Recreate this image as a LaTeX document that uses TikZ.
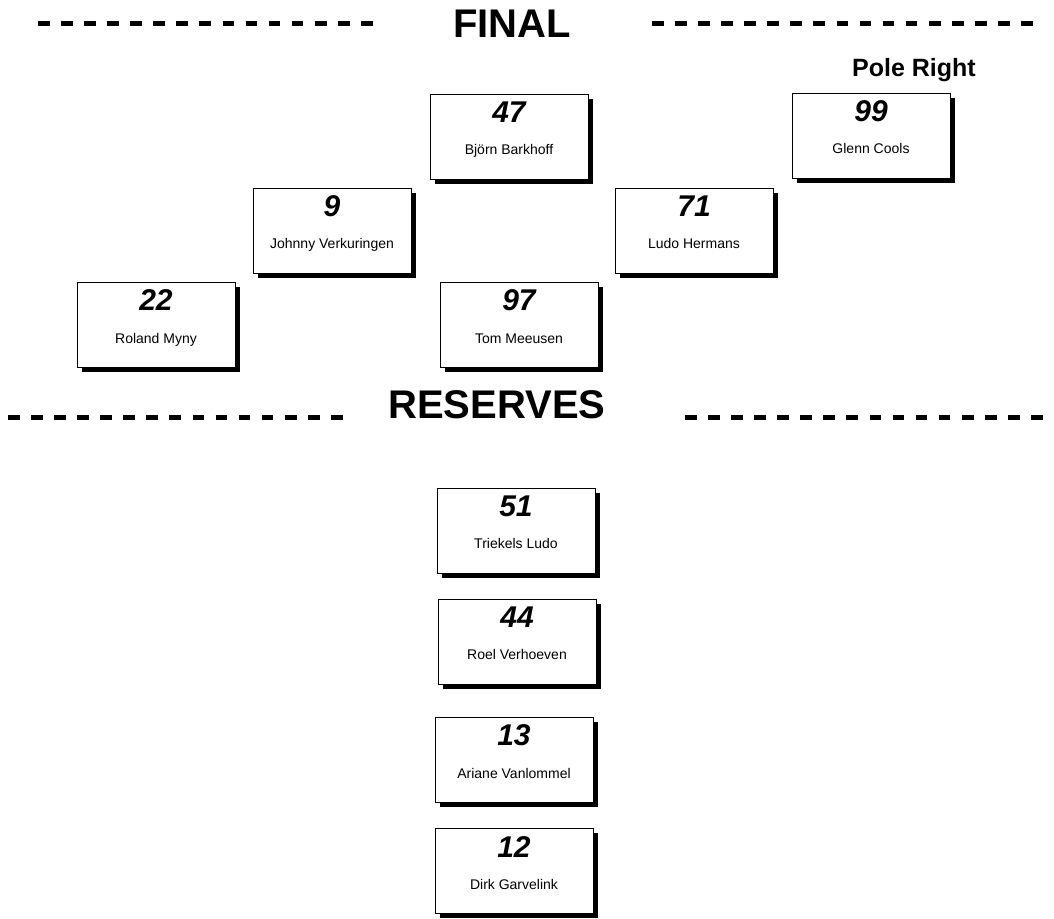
\documentclass[tikz,border=0pt]{standalone}
\usepackage{fontspec}
\setmainfont{Liberation Sans}
\usetikzlibrary{shadows}
\tikzset{
  plaats/.style={draw=black,fill=white,line width=1pt,anchor=north west,inner sep=0pt,
    minimum width=118.5pt,minimum height=63.75pt,
    drop shadow={shadow xshift=3.6pt,shadow yshift=-3.6pt,fill=black,opacity=1}},
  nummer/.style={anchor=base,inner sep=0pt,font=\fontsize{22.5}{24}\selectfont\bfseries\itshape},
  naam/.style={anchor=base,inner sep=0pt,font=\fontsize{10.5}{12}\selectfont},
  kop/.style={anchor=base,inner sep=0pt,font=\fontsize{30}{32}\selectfont\bfseries},
  pole/.style={anchor=base,inner sep=0pt,font=\fontsize{18.75}{20}\selectfont\bfseries},
  streep/.style={line width=3.75pt,dash pattern=on 8.8pt off 8.5pt},
}
\begin{document}
\begin{tikzpicture}[x=0.75pt,y=-0.75pt]
  \useasboundingbox (0,0) rectangle (1054,919);
  % titels
  \draw[streep] (38,23.5)--(373,23.5);
  \draw[streep] (652,23.5)--(1033,23.5);
  \node[kop] (final) at (512,38) {FINAL};
  \draw[streep] (8,417.5)--(343,417.5);
  \draw[streep] (685,417.5)--(1070,417.5);
  \node[kop] (reserves) at (497,419) {RESERVES};
  \node[pole] (poleright) at (914,77) {Pole Right};
  % finale
  \node[plaats] (p47) at (430,94) {};
  \node[nummer] (n47) at (509,123) {47};
  \node[naam] (t47) at (509,155) {Björn Barkhoff};
  \node[plaats] (p99) at (792,93) {};
  \node[nummer] (n99) at (871,122) {99};
  \node[naam] (t99) at (871,154) {Glenn Cools};
  \node[plaats] (p9) at (253,188) {};
  \node[nummer] (n9) at (332,217) {9};
  \node[naam] (t9) at (332,249) {Johnny Verkuringen};
  \node[plaats] (p71) at (615,188) {};
  \node[nummer] (n71) at (694,217) {71};
  \node[naam] (t71) at (694,249) {Ludo Hermans};
  \node[plaats] (p22) at (77,282) {};
  \node[nummer] (n22) at (156,311) {22};
  \node[naam] (t22) at (156,344) {Roland Myny};
  \node[plaats] (p97) at (440,282) {};
  \node[nummer] (n97) at (519,311) {97};
  \node[naam] (t97) at (519,344) {Tom Meeusen};
  % reserves
  \node[plaats] (p51) at (437,488) {};
  \node[nummer] (n51) at (516,517) {51};
  \node[naam] (t51) at (516,549) {Triekels Ludo};
  \node[plaats] (p44) at (438,599) {};
  \node[nummer] (n44) at (517,628) {44};
  \node[naam] (t44) at (517,660) {Roel Verhoeven};
  \node[plaats] (p13) at (435,717) {};
  \node[nummer] (n13) at (514,746) {13};
  \node[naam] (t13) at (514,778) {Ariane Vanlommel};
  \node[plaats] (p12) at (435,828) {};
  \node[nummer] (n12) at (514,857) {12};
  \node[naam] (t12) at (514,889) {Dirk Garvelink};
\end{tikzpicture}
\end{document}
